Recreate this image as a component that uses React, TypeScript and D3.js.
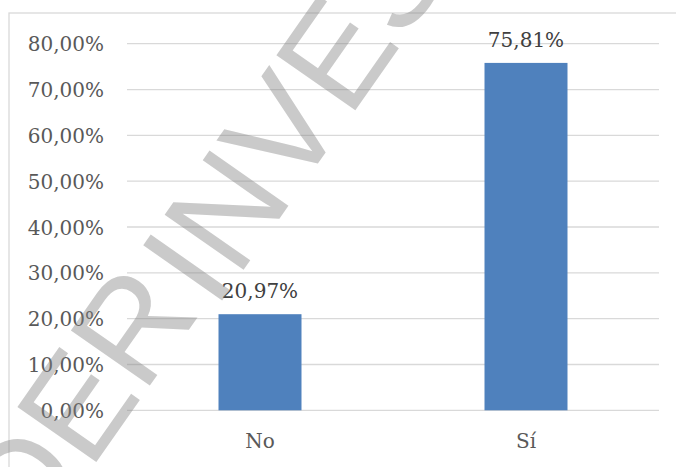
import React from "react";
import * as d3 from "d3";

const categories = ["No", "Sí"];
const values = [20.97, 75.81];
const yTicks = [0, 10, 20, 30, 40, 50, 60, 70, 80];
const watermarkWords = ["DER", "INVES"];

const W = 676;
const H = 467;

const fmt = (v: number) => v.toFixed(2).replace(".", ",") + "%";

export default function App() {
  const x = d3
    .scaleBand<string>()
    .domain(categories)
    .range([127, 659])
    .paddingInner(0.688)
    .paddingOuter(0.344);
  const y = d3.scaleLinear().domain([0, 80]).range([410.3, 43.7]);

  const wmOrigins = [
    [31.8, 554.4],
    [214.8, 311],
  ];

  return (
    <svg
      width={W}
      height={H}
      style={{ position: "absolute", left: 0, top: 0, background: "#fff" }}
      fontFamily="'DejaVu Serif', serif"
    >
      <rect x={0} y={0} width={W} height={H} fill="#fff" />
      <rect x={9} y={13} width={W + 20} height={H + 20} fill="none" stroke="#d9d9d9" strokeWidth={1.3} />
      {yTicks.map((t) => (
        <g key={t}>
          <line x1={127} x2={659} y1={y(t)} y2={y(t)} stroke="#d9d9d9" strokeWidth={1.3} />
          <text x={104} y={y(t) + 7.5} textAnchor="end" fontSize={20} fill="#595959">
            {fmt(t)}
          </text>
        </g>
      ))}
      {categories.map((c, i) => (
        <g key={c}>
          <rect
            x={x(c)!}
            y={y(values[i])}
            width={x.bandwidth()}
            height={y(0) - y(values[i])}
            fill="#4f81bd"
          />
          <text
            x={x(c)! + x.bandwidth() / 2}
            y={y(values[i]) - 16}
            textAnchor="middle"
            fontSize={20}
            fill="#404040"
          >
            {fmt(values[i])}
          </text>
          <text x={x(c)! + x.bandwidth() / 2} y={448} textAnchor="middle" fontSize={20} fill="#595959">
            {c}
          </text>
        </g>
      ))}
      {watermarkWords.map((w, i) => (
        <g key={w} transform={`translate(${wmOrigins[i][0]},${wmOrigins[i][1]}) rotate(-55)`}>
          <text
            x={0}
            y={0}
            fontFamily="'Liberation Sans', Arial, sans-serif"
            fontSize={140}
            fill="#808080"
            fillOpacity={0.42}
          >
            {w}
          </text>
        </g>
      ))}
    </svg>
  );
}
